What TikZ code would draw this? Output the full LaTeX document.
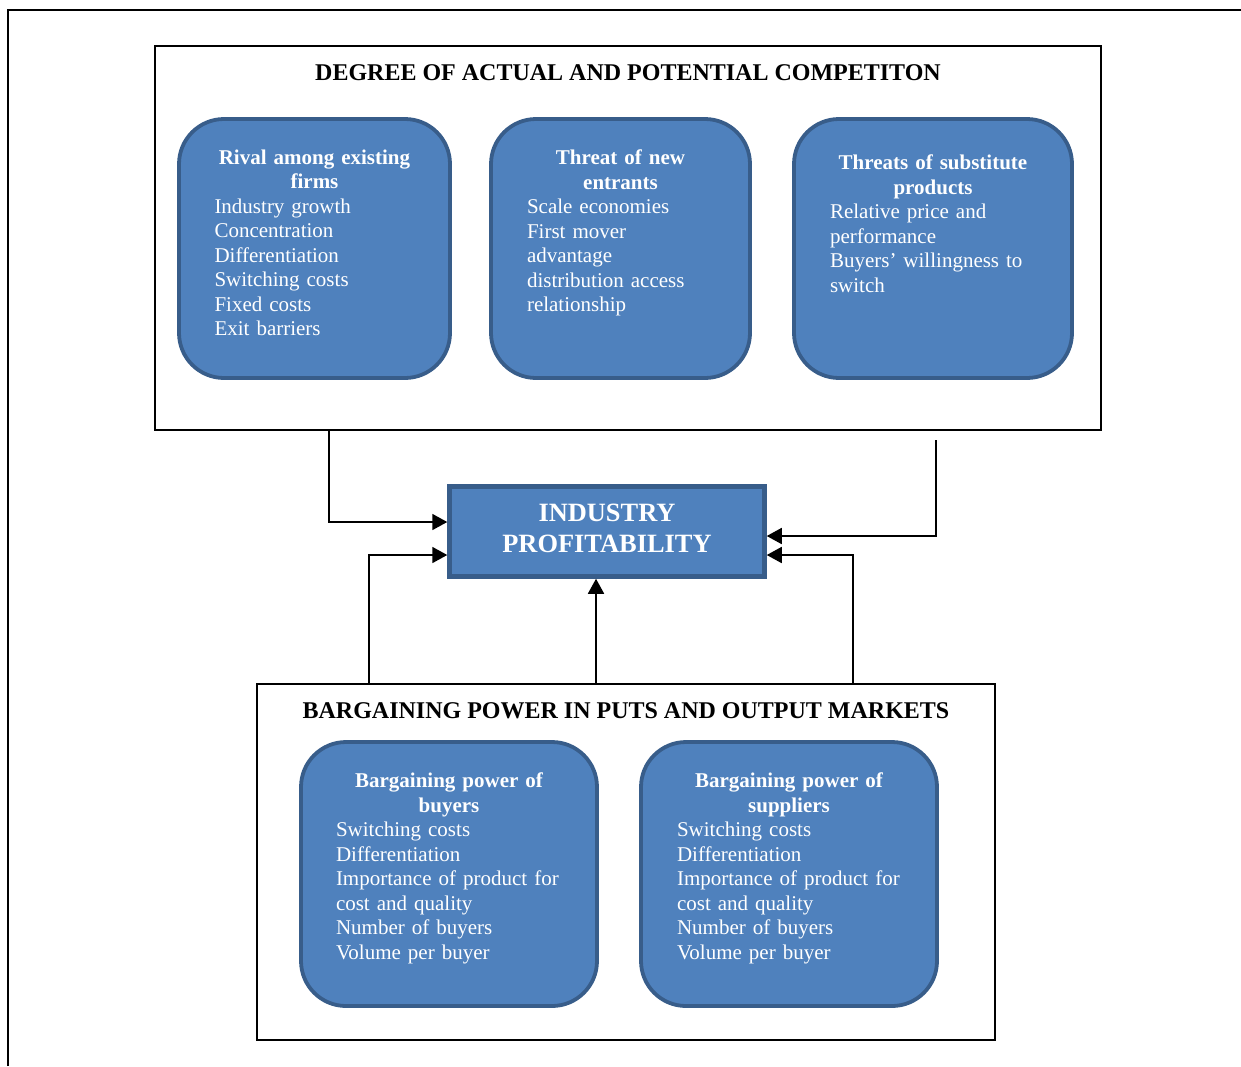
\documentclass[tikz,border=0pt]{standalone}
\usepackage{fontspec}
\setmainfont{Liberation Serif}
\usetikzlibrary{arrows.meta,positioning}

\definecolor{cardfill}{HTML}{4F81BD}
\definecolor{cardline}{HTML}{385D8A}

\tikzset{
  group/.style={draw=black, line width=1.3pt, inner sep=0pt, outer sep=0pt},
  header/.style={font=\fontsize{24}{28}\selectfont\bfseries, inner sep=0pt},
  card/.style={draw=cardline, fill=cardfill, line width=3.8pt, rounded corners=45pt, inner sep=0pt, outer sep=0pt},
  cardtext/.style={text=white, font=\fontsize{21}{24.5}\selectfont, inner sep=0pt, anchor=north},
  hub/.style={draw=cardline, fill=cardfill, line width=4.5pt, text=white, align=center,
    font=\fontsize{26.4}{31}\selectfont\bfseries, minimum width=315pt, minimum height=90pt},
  flow/.style={line width=1.7pt, -{Triangle[length=15pt,width=16pt]}},
}

\begin{document}
\begin{tikzpicture}[x=1pt, y=-1pt]

  \useasboundingbox (0,0) rectangle (1241,1066);
  \draw[line width=2pt] (8,1066) -- (8,10) -- (1241,10);

  % competition
  \node[group, minimum width=946pt, minimum height=384pt] (competition) at (628,238) {};
  \node[header, anchor=base] (comptitle) at ([yshift=-34pt]competition.north) {DEGREE OF ACTUAL AND POTENTIAL COMPETITON};

  \node[card, minimum width=271pt, minimum height=259pt] (rivalry) at (314.5,248.5) {};
  \node[card, minimum width=259pt, minimum height=259pt] (entrants) at (620.5,248.5) {};
  \node[card, minimum width=278pt, minimum height=259pt] (substitutes) at (933,248.5) {};

  \node[cardtext, text width=200pt] (rivalrytext) at ([yshift=-30.7pt]rivalry.north)
    {{\centering\bfseries Rival among existing\\ firms\par}\raggedright
     Industry growth\\ Concentration\\ Differentiation\\ Switching costs\\ Fixed costs\\ Exit barriers};
  \node[cardtext, text width=187pt] (entrantstext) at ([yshift=-30.7pt]entrants.north)
    {{\centering\bfseries Threat of new\\ entrants\par}\raggedright
     Scale economies\\ First mover\\ advantage\\ distribution access\\ relationship};
  \node[cardtext, text width=206pt] (substitutestext) at ([yshift=-35.7pt]substitutes.north)
    {{\centering\bfseries Threats of substitute\\ products\par}\raggedright
     Relative price and\\ performance\\ Buyers’ willingness to\\ switch};

  % profitability
  \node[hub] (profit) at (607,531.5) {INDUSTRY\\PROFITABILITY\vphantom{g}};

  % bargaining power
  \node[group, minimum width=738pt, minimum height=356pt] (bargaining) at (626,862) {};
  \node[header, anchor=base] (bargtitle) at ([yshift=-34pt]bargaining.north) {BARGAINING POWER IN PUTS AND OUTPUT MARKETS};

  \node[card, minimum width=296pt, minimum height=264pt] (buyers) at (449,874) {};
  \node[card, minimum width=296pt, minimum height=264pt] (suppliers) at (789,874) {};

  \node[cardtext, text width=226pt] (buyerstext) at ([yshift=-30.7pt]buyers.north)
    {{\centering\bfseries Bargaining power of\\ buyers\par}\raggedright
     Switching costs\\ Differentiation\\ Importance of product for\\ cost and quality\\ Number of buyers\\ Volume per buyer};
  \node[cardtext, text width=224pt] (supplierstext) at ([yshift=-30.7pt]suppliers.north)
    {{\centering\bfseries Bargaining power of\\ suppliers\par}\raggedright
     Switching costs\\ Differentiation\\ Importance of product for\\ cost and quality\\ Number of buyers\\ Volume per buyer};

  % connectors
  \coordinate (fromrival) at (329,430);
  \coordinate (fromsubst) at (936,440);
  \coordinate (frombuyers) at (369,684);
  \coordinate (frommarket) at (596,684);
  \coordinate (fromsuppliers) at (853,684);

  \draw[flow] (fromrival) |- ([yshift=9.5pt]profit.west);
  \draw[flow] (frombuyers) |- ([yshift=-23.5pt]profit.west);
  \draw[flow] (fromsubst) |- ([yshift=-4.5pt]profit.east);
  \draw[flow] (fromsuppliers) |- ([yshift=-23.5pt]profit.east);
  \draw[flow] (frommarket) -- (profit.south -| frommarket);

\end{tikzpicture}
\end{document}
